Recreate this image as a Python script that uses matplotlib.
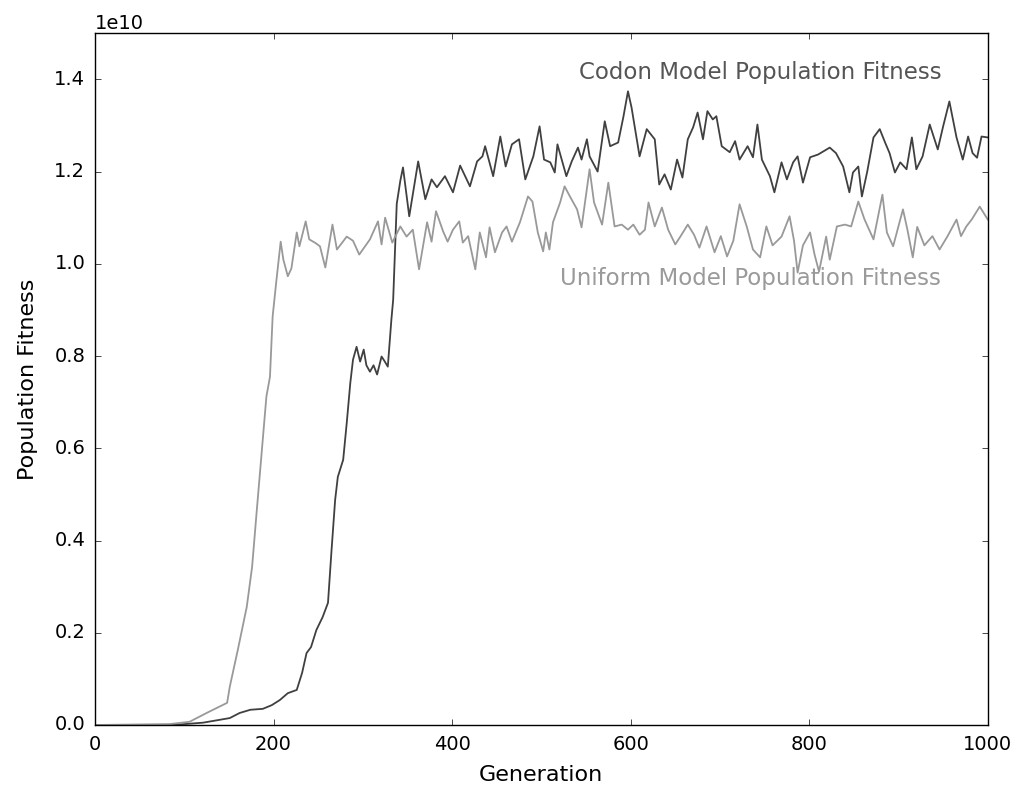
import numpy as np
import matplotlib
matplotlib.use("Agg")
import matplotlib.pyplot as plt

# Codon model population fitness (units of 1e10)
codon_gen = [0, 50, 87, 121, 151, 162, 174, 188, 198, 207, 216, 226, 232, 237, 242,
             248, 255, 261, 265, 269, 272, 278, 282, 286, 289, 293, 297, 301, 304, 308,
             312, 316, 321, 324, 328, 332, 334, 338, 342, 345, 352, 362, 370, 377, 383,
             392, 401, 409, 420, 428, 434, 437, 446, 454, 460, 467, 475, 482, 491, 498,
             503, 510, 515, 518, 528, 534, 541, 545, 551, 554, 563, 571, 577, 586, 592,
             597, 601, 610, 618, 627, 632, 638, 645, 652, 658, 664, 670, 675, 681, 686,
             692, 696, 702, 711, 717, 722, 731, 737, 742, 747, 756, 761, 769, 775, 782,
             787, 793, 801, 810, 823, 830, 838, 845, 849, 855, 859, 865, 872, 879, 885,
             890, 896, 902, 909, 915, 920, 927, 935, 944, 950, 957, 965, 972, 978, 983,
             988, 993, 1000]
codon_fit = [0.0, 0.0, 0.0, 0.005, 0.015, 0.026, 0.033, 0.035, 0.043, 0.054, 0.069, 0.076, 0.113, 0.156, 0.169,
             0.206, 0.234, 0.265, 0.38, 0.488, 0.538, 0.575, 0.655, 0.742, 0.792, 0.82, 0.788, 0.814, 0.78, 0.766,
             0.78, 0.76, 0.799, 0.79, 0.777, 0.879, 0.922, 1.13, 1.18, 1.209, 1.103, 1.222, 1.14, 1.183, 1.166,
             1.19, 1.155, 1.213, 1.168, 1.222, 1.233, 1.255, 1.19, 1.276, 1.211, 1.259, 1.27, 1.183, 1.233, 1.298,
             1.226, 1.22, 1.198, 1.259, 1.19, 1.222, 1.252, 1.226, 1.27, 1.233, 1.2, 1.309, 1.255, 1.263, 1.32,
             1.374, 1.339, 1.233, 1.292, 1.27, 1.172, 1.194, 1.161, 1.226, 1.187, 1.27, 1.296, 1.328, 1.27, 1.331,
             1.313, 1.32, 1.255, 1.242, 1.266, 1.226, 1.255, 1.231, 1.302, 1.226, 1.19, 1.155, 1.22, 1.183, 1.22,
             1.233, 1.176, 1.231, 1.237, 1.252, 1.24, 1.211, 1.155, 1.198, 1.211, 1.146, 1.2, 1.274, 1.292, 1.263,
             1.24, 1.198, 1.22, 1.205, 1.274, 1.205, 1.233, 1.302, 1.248, 1.298, 1.352, 1.274, 1.226, 1.276, 1.24,
             1.23, 1.276, 1.274]

# Uniform model population fitness (units of 1e10)
uniform_gen = [0, 84, 106, 125, 148, 151, 160, 170, 176, 181, 187, 192, 196, 199, 203,
               208, 211, 216, 220, 226, 229, 236, 240, 247, 252, 258, 266, 271, 282, 289,
               296, 308, 317, 321, 325, 333, 342, 349, 356, 363, 372, 377, 382, 390, 395,
               401, 408, 412, 418, 426, 431, 438, 442, 448, 456, 461, 467, 476, 485, 490,
               496, 502, 505, 509, 513, 521, 526, 532, 540, 545, 554, 559, 568, 575, 582,
               590, 597, 603, 610, 616, 620, 627, 635, 642, 650, 656, 664, 671, 677, 685,
               694, 701, 708, 715, 722, 730, 737, 745, 752, 759, 769, 778, 783, 787, 793,
               801, 806, 811, 819, 823, 831, 840, 847, 855, 862, 872, 882, 887, 894, 905,
               910, 916, 921, 929, 938, 946, 955, 965, 970, 976, 982, 991, 1000]
uniform_fit = [0.0, 0.002, 0.007, 0.026, 0.048, 0.083, 0.163, 0.256, 0.343, 0.46, 0.597, 0.712, 0.755, 0.886, 0.96,
               1.048, 1.009, 0.973, 0.99, 1.068, 1.038, 1.092, 1.053, 1.045, 1.038, 0.992, 1.085, 1.031, 1.059, 1.05,
               1.02, 1.053, 1.092, 1.042, 1.1, 1.046, 1.081, 1.059, 1.074, 0.988, 1.09, 1.048, 1.114, 1.07, 1.048,
               1.074, 1.092, 1.046, 1.06, 0.988, 1.068, 1.014, 1.079, 1.025, 1.068, 1.081, 1.048, 1.09, 1.146, 1.135,
               1.068, 1.027, 1.068, 1.031, 1.09, 1.133, 1.168, 1.146, 1.118, 1.079, 1.205, 1.133, 1.085, 1.176, 1.081,
               1.085, 1.074, 1.085, 1.063, 1.074, 1.133, 1.081, 1.122, 1.074, 1.042, 1.06, 1.085, 1.063, 1.035, 1.081,
               1.025, 1.06, 1.016, 1.05, 1.129, 1.081, 1.031, 1.014, 1.081, 1.04, 1.059, 1.103, 1.05, 0.981, 1.04,
               1.068, 1.02, 0.983, 1.059, 1.009, 1.081, 1.085, 1.081, 1.135, 1.096, 1.053, 1.15, 1.068, 1.038, 1.118,
               1.074, 1.014, 1.08, 1.04, 1.06, 1.031, 1.06, 1.096, 1.06, 1.081, 1.096, 1.124, 1.096]

plt.style.use("classic")
fig = plt.figure(figsize=(10.18, 7.87), dpi=100, facecolor="white")
ax = fig.add_axes([0.0933, 0.0788, 0.877, 0.879])

ax.plot(codon_gen, np.array(codon_fit) * 1e10, color="#404040", lw=1.3)
ax.plot(uniform_gen, np.array(uniform_fit) * 1e10, color="#999999", lw=1.3)

# series labels placed next to the curves
ax.text(948, 1.415e10, "Codon Model Population Fitness", color="#555555",
        fontsize=16.5, ha="right", va="center")
ax.text(948, 0.968e10, "Uniform Model Population Fitness", color="#9a9a9a",
        fontsize=16.5, ha="right", va="center")

ax.set_xlim(0, 1000)
ax.set_ylim(0, 1.5e10)
ax.set_yticks(np.arange(0, 1.5e10, 0.2e10))
ax.set_xlabel("Generation", fontsize=16, labelpad=8)
ax.set_ylabel("Population Fitness", fontsize=16, labelpad=12)
ax.tick_params(labelsize=14, pad=7)
ax.yaxis.get_offset_text().set_fontsize(14)

fig.savefig("out.png", dpi=100, facecolor="white")
